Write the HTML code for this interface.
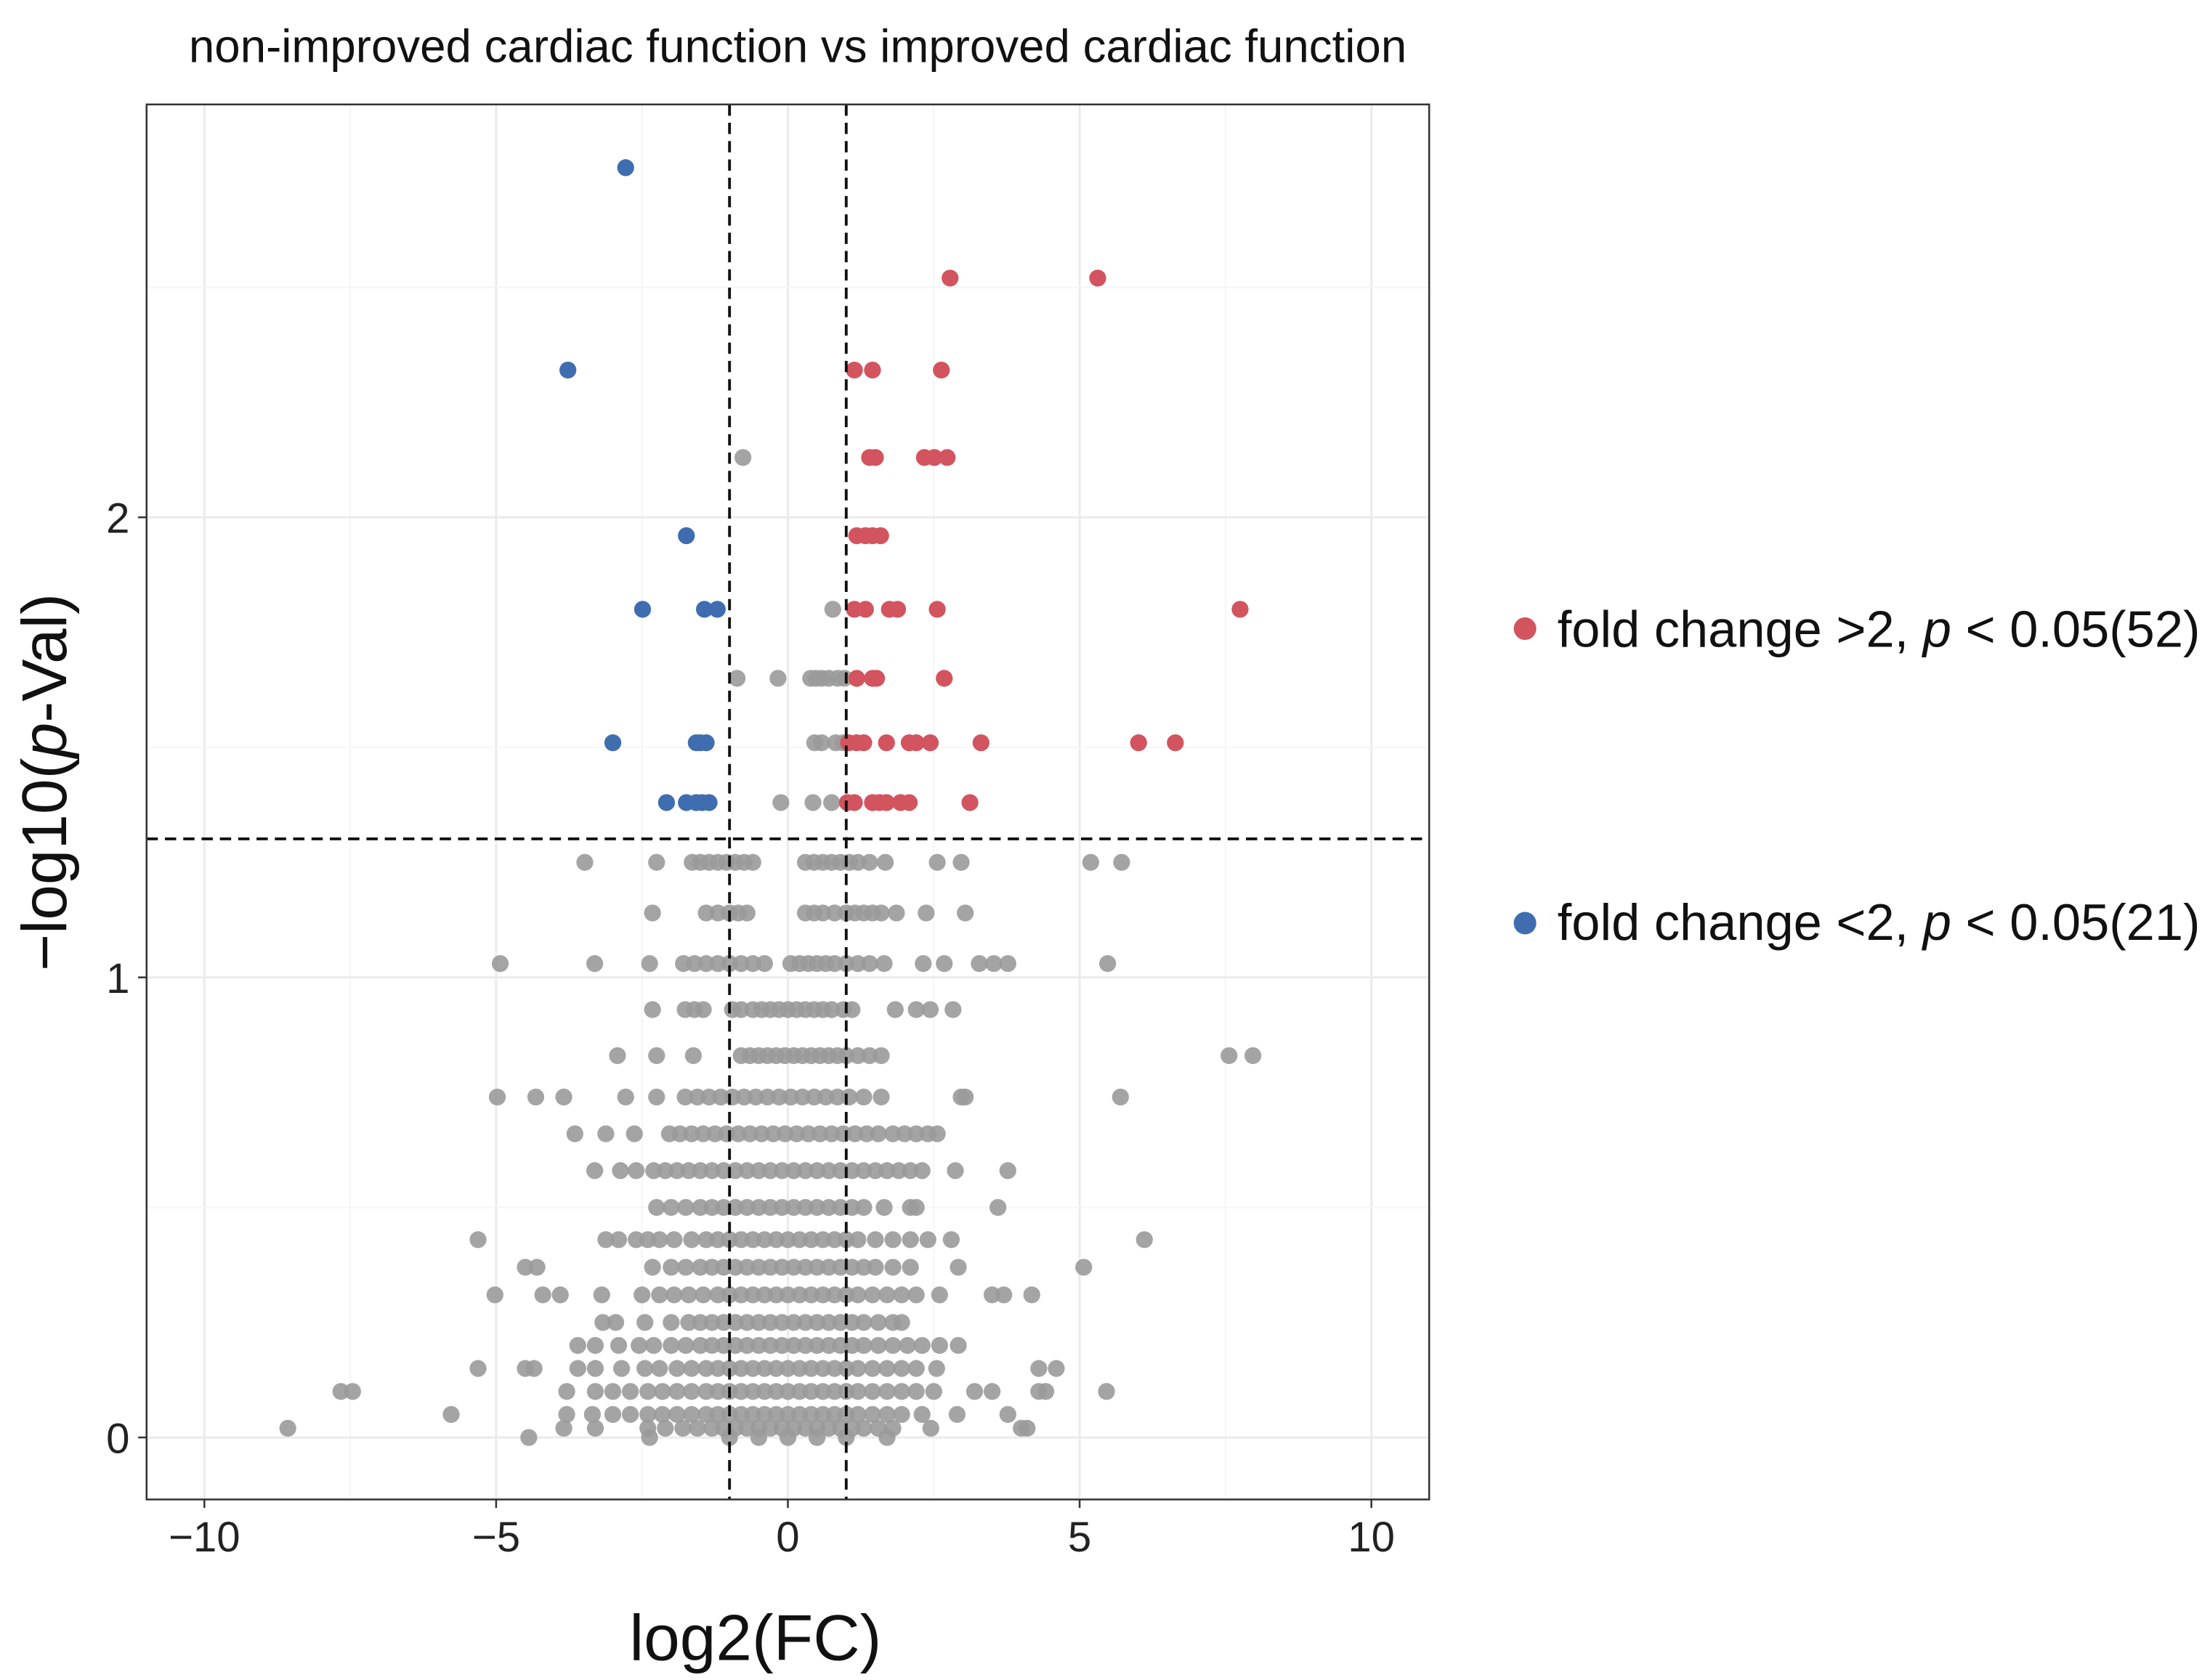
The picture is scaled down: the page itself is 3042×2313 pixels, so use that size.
<!DOCTYPE html>
<html><head><meta charset="utf-8"><style>html,body{margin:0;padding:0;background:#fff}svg{display:block}</style></head>
<body>
<svg id="chart" width="3042" height="2313" viewBox="0 0 1568 1192" xmlns="http://www.w3.org/2000/svg" font-family="Liberation Sans, Arial, sans-serif">
<rect width="1568" height="1192" fill="#fff"/>
<text x="566" y="44" font-size="32.8" text-anchor="middle" fill="#111">non-improved cardiac function vs improved cardiac function</text>
<g id="grid"></g>
<g id="points"></g>
<g id="lines"></g>
<rect x="104" y="74" width="910" height="990" fill="none" stroke="#333" stroke-width="1.3"/>
<g id="axes"></g>
<text x="536" y="1178" font-size="46" text-anchor="middle" fill="#111">log2(FC)</text>
<text transform="translate(47,555) rotate(-90)" font-size="45" text-anchor="middle" fill="#111">−log10(<tspan font-style="italic">p</tspan>-Val)</text>
<g>
<circle cx="1082" cy="446" r="8" fill="#d2545f"/>
<text x="1105" y="459" font-size="36.3" fill="#111">fold change &gt;2, <tspan font-style="italic">p</tspan> &lt; 0.05(52)</text>
<circle cx="1082" cy="655" r="8" fill="#3f6db0"/>
<text x="1105" y="667" font-size="36.3" fill="#111">fold change &lt;2, <tspan font-style="italic">p</tspan> &lt; 0.05(21)</text>
</g>
</svg>
<script>
const xTicks=[-10,-5,0,5,10];
const xTickLabels=["−10","−5","0","5","10"];
const yTicks=[0,1,2];
const yTickLabels=["0","1","2"];
const upX=[2.78,5.31,1.14,1.45,2.63,1.40,1.50,2.34,2.51,2.73,1.18,1.33,1.45,1.59,1.14,1.33,1.74,1.88,2.56,7.75,1.18,1.45,1.52,2.68,1.04,1.18,1.30,1.69,2.08,2.20,2.44,3.31,6.01,6.64,1.02,1.14,1.45,1.57,1.69,1.93,2.08,3.12];
const upY=[2.52,2.52,2.32,2.32,2.32,2.13,2.13,2.13,2.13,2.13,1.96,1.96,1.96,1.96,1.80,1.80,1.80,1.80,1.80,1.80,1.65,1.65,1.65,1.65,1.51,1.51,1.51,1.51,1.51,1.51,1.51,1.51,1.51,1.51,1.38,1.38,1.38,1.38,1.38,1.38,1.38,1.38];
const downX=[-2.78,-3.77,-1.74,-2.49,-1.43,-1.21,-3.00,-1.57,-1.50,-1.40,-2.08,-1.74,-1.57,-1.47,-1.35];
const downY=[2.76,2.32,1.96,1.80,1.80,1.80,1.51,1.51,1.51,1.51,1.38,1.38,1.38,1.38,1.38];
const grayRowY=[2.13,1.80,1.65,1.51,1.38,1.25,1.14,1.03,0.93,0.83,0.74,0.66,0.58,0.50,0.43,0.37,0.31,0.25,0.20,0.15,0.10,0.05,0.02,0.0];
const grayRowX=[
[-0.77],[0.77],
[-0.87,-0.17,0.39,0.48,0.58,0.7,0.85,0.97],
[0.46,0.58,0.82,0.95],
[-0.12,0.43,0.75],
[-3.48,-2.25,-1.64,-1.5,-1.35,-1.2,-1.05,-0.9,-0.75,-0.6,0.3,0.45,0.6,0.75,0.9,1.05,1.2,1.4,1.67,2.56,2.97,5.19,5.72],
[-2.32,-1.4,-1.2,-1.0,-0.85,-0.7,0.3,0.45,0.6,0.8,1.0,1.15,1.3,1.45,1.6,1.86,2.37,3.04],
[-4.93,-3.31,-2.37,-1.79,-1.6,-1.4,-1.2,-1.0,-0.8,-0.6,-0.4,0.05,0.2,0.35,0.5,0.65,0.8,1.0,1.2,1.4,1.65,2.32,2.68,3.28,3.53,3.77,5.48],
[-2.32,-1.76,-1.6,-1.45,-0.95,-0.8,-0.6,-0.45,-0.3,-0.15,0,0.15,0.3,0.45,0.6,0.75,0.95,1.1,1.84,2.2,2.44,2.83],
[-2.92,-2.25,-1.62,-0.8,-0.65,-0.5,-0.35,-0.2,-0.05,0.1,0.25,0.4,0.55,0.7,0.85,1.0,1.2,1.4,1.6,7.56,7.97],
[-4.98,-4.32,-3.84,-2.78,-2.25,-1.76,-1.55,-1.35,-1.15,-0.95,-0.75,-0.55,-0.35,-0.15,0.05,0.25,0.45,0.65,0.85,1.05,1.3,1.6,2.97,3.04,5.7],
[-3.65,-3.12,-2.63,-2.03,-1.85,-1.65,-1.45,-1.25,-1.05,-0.85,-0.65,-0.45,-0.25,-0.05,0.15,0.35,0.55,0.75,0.95,1.15,1.35,1.55,1.8,2.0,2.2,2.4,2.56],
[-3.31,-2.87,-2.6,-2.3,-2.1,-1.9,-1.7,-1.5,-1.3,-1.1,-0.9,-0.7,-0.5,-0.3,-0.1,0.1,0.3,0.5,0.7,0.9,1.1,1.3,1.5,1.7,1.9,2.1,2.3,2.87,3.77],
[-2.25,-2.0,-1.75,-1.5,-1.3,-1.1,-0.9,-0.7,-0.5,-0.3,-0.1,0.1,0.3,0.5,0.7,0.9,1.1,1.3,1.65,2.1,2.2,3.6],
[-5.31,-3.12,-2.9,-2.6,-2.4,-2.2,-1.95,-1.65,-1.4,-1.2,-1.0,-0.8,-0.6,-0.4,-0.2,0,0.2,0.4,0.6,0.8,1.0,1.2,1.5,1.8,2.1,2.4,2.8,6.11],
[-4.5,-4.3,-2.32,-2.0,-1.75,-1.5,-1.3,-1.1,-0.9,-0.7,-0.5,-0.3,-0.1,0.1,0.3,0.5,0.7,0.9,1.1,1.3,1.5,1.8,2.1,2.92,5.07],
[-5.02,-4.2,-3.9,-3.19,-2.5,-2.2,-1.95,-1.7,-1.45,-1.2,-1.0,-0.8,-0.6,-0.4,-0.2,0,0.2,0.4,0.6,0.8,1.0,1.2,1.45,1.7,1.95,2.2,2.6,3.5,3.7,4.18],
[-3.17,-2.95,-2.45,-2.0,-1.7,-1.5,-1.3,-1.1,-0.9,-0.7,-0.5,-0.3,-0.1,0.1,0.3,0.5,0.7,0.9,1.1,1.3,1.55,1.8,1.95],
[-3.6,-3.3,-2.9,-2.55,-2.3,-2.0,-1.75,-1.5,-1.3,-1.1,-0.9,-0.7,-0.5,-0.3,-0.1,0.1,0.3,0.5,0.7,0.9,1.1,1.3,1.55,1.8,2.05,2.3,2.6,2.92],
[-5.31,-4.5,-4.35,-3.6,-3.3,-2.85,-2.45,-2.2,-1.9,-1.65,-1.4,-1.2,-1.0,-0.8,-0.6,-0.4,-0.2,0,0.2,0.4,0.6,0.8,1.0,1.2,1.45,1.7,1.95,2.2,2.55,4.3,4.6],
[-7.66,-7.46,-3.79,-3.3,-3.0,-2.7,-2.4,-2.15,-1.9,-1.65,-1.4,-1.2,-1.0,-0.8,-0.6,-0.4,-0.2,0,0.2,0.4,0.6,0.8,1.0,1.2,1.45,1.7,1.95,2.2,2.5,3.2,3.5,4.3,4.42,5.46],
[-5.77,-3.79,-3.35,-3.0,-2.7,-2.4,-2.15,-1.9,-1.65,-1.4,-1.2,-1.0,-0.8,-0.6,-0.4,-0.2,0,0.2,0.4,0.6,0.8,1.0,1.2,1.45,1.7,1.95,2.3,2.9,3.77],
[-8.57,-3.84,-3.3,-2.4,-2.1,-1.8,-1.55,-1.3,-1.1,-0.9,-0.7,-0.5,-0.3,-0.1,0.1,0.3,0.5,0.7,0.9,1.1,1.3,1.55,1.8,2.45,4.0,4.1],
[-4.44,-2.37,-1.0,-0.5,0,0.5,1.0,1.7]
];
const fcThreshold=1;
const pThreshold=1.301;

const NS="http://www.w3.org/2000/svg";
const X0=104,X1=1014,Y0=74,Y1=1064;
function sx(v){return 559+v*41.4;}
function sy(v){return 1020-v*326.5;}
function mk(tag,attrs,parent){const e=document.createElementNS(NS,tag);for(const k in attrs)e.setAttribute(k,attrs[k]);parent.appendChild(e);return e;}
const grid=document.getElementById('grid'),pts=document.getElementById('points'),lines=document.getElementById('lines'),axes=document.getElementById('axes');
for(let v=-10;v<=10;v+=2.5){const major=xTicks.includes(v);
 const l=mk('line',{x1:sx(v),x2:sx(v),y1:Y0,y2:Y1,stroke:major?'#ebebeb':'#f5f5f5','stroke-width':major?1.6:1},grid);
 
 }
for(let v=0;v<=2.5;v+=0.5){const major=yTicks.includes(v);
 const l=mk('line',{x1:X0,x2:X1,y1:sy(v),y2:sy(v),stroke:major?'#ebebeb':'#f5f5f5','stroke-width':major?1.6:1},grid);
 
 }
grayRowY.forEach((y,i)=>{grayRowX[i].forEach(x=>{
 const c=mk('circle',{cx:sx(x),cy:sy(y),r:6,fill:'#9a9a9a','fill-opacity':0.9},pts);
 
 });});
upX.forEach((x,i)=>{const c=mk('circle',{cx:sx(x),cy:sy(upY[i]),r:6,fill:'#d2545f'},pts);
 
 });
downX.forEach((x,i)=>{const c=mk('circle',{cx:sx(x),cy:sy(downY[i]),r:6,fill:'#3f6db0'},pts);
 
 });
[-fcThreshold,fcThreshold].forEach(v=>{const l=mk('line',{x1:sx(v),x2:sx(v),y1:Y0,y2:Y1,stroke:'#111','stroke-width':2,'stroke-dasharray':'8,5'},lines);
 
 });
const hl=mk('line',{x1:X0,x2:X1,y1:sy(pThreshold),y2:sy(pThreshold),stroke:'#111','stroke-width':2,'stroke-dasharray':'8,5'},lines);


xTicks.forEach((v,i)=>{mk('line',{x1:sx(v),x2:sx(v),y1:Y1,y2:Y1+6,stroke:'#333','stroke-width':1.3},axes);
 const t=mk('text',{x:sx(v),y:1101,'font-size':30,'text-anchor':'middle',fill:'#222'},axes);t.textContent=xTickLabels[i];
 
 });
yTicks.forEach((v,i)=>{mk('line',{x1:X0-6,x2:X0,y1:sy(v),y2:sy(v),stroke:'#333','stroke-width':1.3},axes);
 const t=mk('text',{x:X0-12,y:sy(v)+11,'font-size':30,'text-anchor':'end',fill:'#222'},axes);t.textContent=yTickLabels[i];
 
 });
</script>
</body></html>
